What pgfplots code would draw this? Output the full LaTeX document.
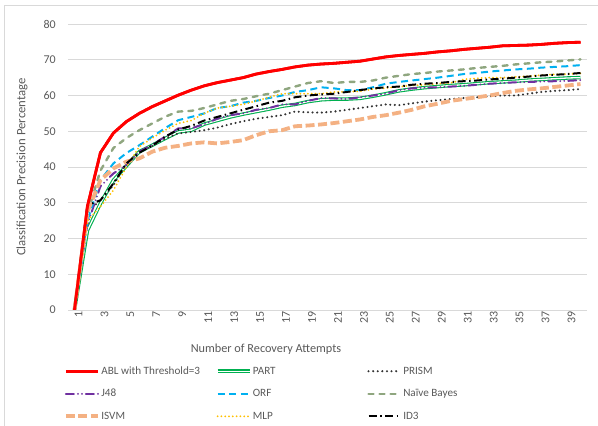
\documentclass[border=0pt]{standalone}
\usepackage{pgfplots}
\usepackage{pgfplotstable}
\pgfplotsset{compat=1.18}
\usepackage{fontspec}
\setmainfont{Carlito}
\definecolor{txt}{HTML}{595959}
\definecolor{gridc}{HTML}{D9D9D9}
\definecolor{ablred}{HTML}{FF0000}
\definecolor{partg}{HTML}{00B050}
\definecolor{prismc}{HTML}{333333}
\definecolor{j48c}{HTML}{7030A0}
\definecolor{orfc}{HTML}{00B0F0}
\definecolor{nbc}{HTML}{8FA67F}
\definecolor{isvmc}{HTML}{F4B183}
\definecolor{mlpc}{HTML}{FFC000}
\pgfplotstableread{
x ABL PART PRISM J48 ORF NB ISVM MLP ID3
1 0 0 0 0 0 0 0 0 0
2 29 22.3 27.5 24 25 27 27.5 25 29.3
3 44 29.8 30.7 34.6 36.3 39 36.3 28.9 30.7
4 49.5 36.3 34.9 38.2 41 45.3 39.6 33.5 35.4
5 52.7 40.3 41 40.5 43.9 48.1 41.5 40 41
6 55 44.3 44.3 44.3 46.1 50.3 42.4 45.7 44
7 56.9 46.1 45.9 46.3 48.5 52.2 44.3 48.1 46
8 58.5 48 48 48.5 50.9 54.1 45.4 50.3 48.5
9 60.1 49.8 49.4 50.8 53.1 55.5 45.9 52.2 50.5
10 61.5 50.3 49.8 50.8 54 55.7 46.6 53 51.5
11 62.7 52 50.3 52 55 56.5 46.9 55 53
12 63.6 53 51 53.5 56.5 57.5 46.6 56.5 54
13 64.3 54 52 54.5 57 58.5 47 57 55
14 65 54.8 52.8 55 58 59 47.5 57.5 56
15 66 55.5 53.5 56 58.5 59.8 48.9 58.5 57
16 66.7 56.2 54 56.5 59.3 60.5 50 59.5 58
17 67.3 57 54.5 57.5 60 61.5 50.3 60.5 58.5
18 68 57.5 55.5 57.5 61 62.5 51.4 60.5 59.5
19 68.5 58.3 55.3 58.5 61.5 63.5 51.6 60.5 60
20 68.8 58.8 55.2 59.3 62.3 64 51.9 60.5 60.3
21 69 59 55.5 59.2 62 63.5 52.3 61 60.5
22 69.3 59 56 59 61.5 63.8 52.8 61 61
23 69.6 59.2 56.5 59.5 61.5 63.8 53.3 61.2 61.5
24 70.2 59.8 57 60 62.3 64.2 54 61.8 62
25 70.8 60.5 57.5 60.5 63.3 65 54.5 62.1 62.3
26 71.2 61.3 57.3 61.5 63.8 65.5 55.2 62.5 62.5
27 71.5 61.8 57.8 62 64.2 66 56 62.8 63
28 71.8 62.2 58.3 62.2 64.6 66.3 57 63 63.3
29 72.2 62.5 58.7 62.3 65 66.7 57.7 63.3 63.5
30 72.5 62.8 59 62.5 65.5 67 58.5 63.5 63.8
31 72.9 63 59.3 62.7 66 67.3 59 64.5 64
32 73.2 63.3 59.5 63 66.3 67.7 59.5 64.8 64.2
33 73.5 63.6 59.8 63.3 66.7 68 60 65 64.5
34 73.9 63.8 60 63.5 67 68.3 60.7 65 64.7
35 74 64 60 63.7 67.3 68.7 61.3 65.2 65
36 74.1 64.3 60.5 63.8 67.5 69 61.7 65.4 65.3
37 74.3 64.5 61 63.9 67.8 69.3 62 65.7 65.6
38 74.6 64.7 61.3 64 68 69.5 62.4 65.9 65.8
39 74.8 64.9 61.5 64.1 68.2 69.8 62.8 66 66
40 74.9 65 61.8 64.3 68.5 70.1 63.2 66.2 66.3
}\data
\begin{document}
\begin{tikzpicture}[x=1bp,y=1bp]
\begin{axis}[
  at={(68bp,116bp)}, anchor=south west,
  scale only axis, width=519bp, height=286bp,
  xmin=0.5, xmax=40.5, ymin=0, ymax=80,
  xtick={1,3,...,39}, ytick={0,10,...,80},
  axis line style={draw=none},
  axis x line*=bottom, axis y line*=left,
  tick style={draw=none},
  ymajorgrids, grid style={gridc, line width=0.9bp},
  font=\fontsize{12}{14}\selectfont,
  tick label style={txt, font=\fontsize{12}{14}\selectfont},
  /pgf/number format/assume math mode=true,
  xticklabel style={rotate=90, anchor=east, inner sep=1bp, yshift=-4bp},
  yticklabel style={inner sep=1bp, xshift=-11bp},
  xlabel={Number of Recovery Attempts},
  ylabel={Classification Precision Percentage},
  label style={txt, font=\fontsize{12.3}{14}\selectfont},
  xlabel style={at={(axis description cs:0.3815,-0.1364)}, anchor=center},
  ylabel style={at={(axis description cs:-0.0886,0.5)}, anchor=center, font=\fontsize{12.8}{14}\selectfont},
  legend columns=3,
  legend style={at={(axis description cs:-0.008,-0.192)}, anchor=north west,
    draw=none, fill=none, inner sep=0pt, row sep=10.5bp,
    font=\fontsize{11.2}{13}\selectfont, text=txt,
    nodes={inner sep=1.5bp},
    /tikz/every even column/.append style={column sep=0bp}},
  legend cell align=left,
  legend image code/.code={\draw[#1] (0bp,0bp) -- (32bp,0bp);},
  every axis plot/.append style={line join=round},
]
\addplot[ablred, line width=2.8bp] table[x=x,y=ABL] {\data};
\addlegendentry{\makebox[113bp][l]{ABL with Threshold=3}}
\addplot[partg, line width=1.1bp, double=white, double distance=1.3bp] table[x=x,y=PART] {\data};
\addlegendentry{\makebox[113bp][l]{PART}}
\addplot[prismc, line width=2.3bp, line cap=round, dash pattern=on 0bp off 4.6bp] table[x=x,y=PRISM] {\data};
\addlegendentry{PRISM}
\addplot[j48c, line width=2bp, line cap=round, dash pattern=on 8bp off 4bp on 0bp off 4bp on 0bp off 4bp] table[x=x,y=J48] {\data};
\addlegendentry{\makebox[113bp][l]{J48}}
\addplot[orfc, line width=2bp, dash pattern=on 7bp off 4.5bp] table[x=x,y=ORF] {\data};
\addlegendentry{\makebox[113bp][l]{ORF}}
\addplot[nbc, line width=2.4bp, line cap=round, dash pattern=on 5bp off 6bp] table[x=x,y=NB] {\data};
\addlegendentry{Naïve Bayes}
\addplot[isvmc, line width=3.8bp, dash pattern=on 9bp off 3.5bp] table[x=x,y=ISVM] {\data};
\addlegendentry{\makebox[113bp][l]{ISVM}}
\addplot[mlpc, line width=2bp, line cap=round, dash pattern=on 0bp off 3.8bp] table[x=x,y=MLP] {\data};
\addlegendentry{\makebox[113bp][l]{MLP}}
\addplot[black, line width=2bp, dash pattern=on 8bp off 3.5bp on 1.5bp off 3.5bp] table[x=x,y=ID3] {\data};
\addlegendentry{ID3}
\addplot[ablred, line width=2.8bp, forget plot] table[x=x,y=ABL] {\data};
\end{axis}
\pgfresetboundingbox
\path[use as bounding box] (0bp,0bp) rectangle (598bp,426bp);
\draw[gridc] (4bp,0bp) -- (4bp,421bp) -- (598bp,421bp);
\end{tikzpicture}
\end{document}
